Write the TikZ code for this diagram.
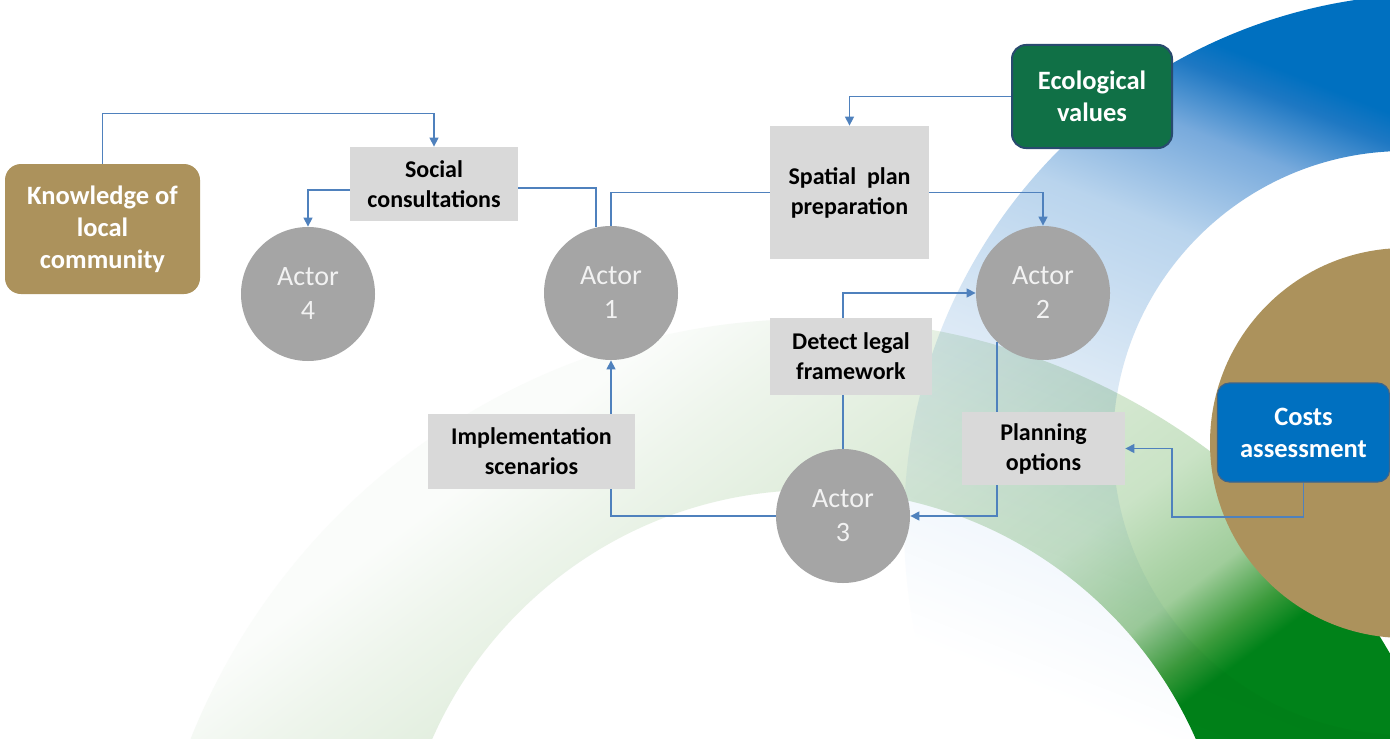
\documentclass[tikz,border=0pt]{standalone}
\usepackage{fontspec}
\setmainfont{Carlito}
\usetikzlibrary{arrows.meta,calc}

\definecolor{linkblue}{RGB}{79,129,189}
\definecolor{boxgray}{RGB}{217,217,217}
\definecolor{actorgray}{RGB}{165,165,165}
\definecolor{actortext}{RGB}{242,242,242}
\definecolor{goldc}{RGB}{172,146,92}
\definecolor{ecogreen}{RGB}{16,112,70}
\definecolor{ecoborder}{RGB}{40,74,110}
\definecolor{costblue}{RGB}{0,112,192}
\definecolor{costborder}{RGB}{60,100,140}

\definecolor{bl1}{RGB}{240,246,252}
\definecolor{bl2}{RGB}{218,232,245}
\definecolor{bl3}{RGB}{185,212,237}
\definecolor{bl4}{RGB}{120,170,220}
\definecolor{bl5}{RGB}{30,120,195}
\definecolor{bldark}{RGB}{0,112,192}

\definecolor{gr0}{RGB}{250,252,250}
\definecolor{gr1}{RGB}{238,245,236}
\definecolor{gr2}{RGB}{220,235,216}
\definecolor{gr3}{RGB}{202,227,198}
\definecolor{gr4}{RGB}{160,205,155}
\definecolor{gr5}{RGB}{60,155,60}
\definecolor{grdark}{RGB}{0,130,25}

\pgfdeclareverticalshading{blueband}{100bp}{color(0bp)=(white); color(30bp)=(white); color(35bp)=(bl1); color(40bp)=(bl2); color(45bp)=(bl3); color(48.1bp)=(bl4); color(50bp)=(bl5); color(50.9bp)=(bldark); color(100bp)=(bldark)}
\pgfdeclareverticalshading{greenband}{100bp}{color(0bp)=(white); color(38.5bp)=(gr0); color(40.3bp)=(gr1); color(43.5bp)=(gr2); color(46.8bp)=(gr3); color(48.9bp)=(gr4); color(50bp)=(gr5); color(50.7bp)=(grdark); color(100bp)=(grdark)}

\begin{document}
\begin{tikzpicture}[x=0.5pt,y=-0.5pt,
  conn/.style={draw=linkblue, line width=0.7pt},
  arr/.style={conn, -{Triangle[length=4.5pt,width=4.5pt]}},
  graybox/.style={fill=boxgray, align=center, inner sep=0pt, font=\fontsize{12}{15}\selectfont\bfseries, text=black},
  colbox/.style={rounded corners=7pt, align=center, inner sep=0pt, font=\fontsize{13.25}{16}\selectfont\bfseries, text=white},
  actor/.style={circle, fill=actorgray, minimum size=67pt, inner sep=0pt, align=center, font=\fontsize{14}{17}\selectfont, text=actortext}]

\useasboundingbox (0,0) rectangle (1390,738);
\fill[white] (0,0) rectangle (1390,738);

% decorative background
\begin{scope}
  \clip (0,0) rectangle (1390,738);
  \begin{scope}
    \clip (811,987) ++(668,0) arc[start angle=0, end angle=360, radius=668] -- cycle
          (814,907) ++(417,0) arc[start angle=0, end angle=-360, radius=417] -- cycle;
    \shade[shading=greenband, shading angle=-143.13] (-40,-610) rectangle (2460,1890);
  \end{scope}
  \begin{scope}[blend mode=multiply]
    \clip (1435,525) ++(531,0) arc[start angle=0, end angle=360, radius=531] -- cycle
          (1405,443) ++(292,0) arc[start angle=0, end angle=-360, radius=292] -- cycle;
    \shade[shading=blueband, shading angle=-21.7] (450,-712) rectangle (2050,888);
  \end{scope}
  \fill[goldc] (1405,443) circle[radius=195];
\end{scope}

% nodes
\node[colbox, fill=goldc, rounded corners=8pt, minimum width=97.5pt, minimum height=65pt] (know) at (102.5,229) {Knowledge of\\local\\community};
\node[graybox, minimum width=84pt, minimum height=37pt] (social) at (434,184) {Social\\consultations};
\node[graybox, minimum width=79.5pt, minimum height=66.5pt] (spatial) at (849.5,192.5) {Spatial\ \ plan\\preparation};
\node[colbox, fill=ecogreen, draw=ecoborder, line width=1pt, minimum width=80pt, minimum height=51.5pt] (eco) at (1092,96.5) {Ecological\\values};
\node[graybox, minimum width=81pt, minimum height=38.5pt] (detect) at (851,356.5) {Detect legal\\framework};
\node[graybox, minimum width=103.5pt, minimum height=37.5pt] (impl) at (531.5,451.5) {Implementation\\scenarios};
\node[graybox, minimum width=81.5pt, minimum height=36.5pt] (plan) at (1043.5,448.5) {Planning\\options};
\node[colbox, fill=costblue, draw=costborder, line width=0.6pt, rounded corners=6pt, minimum width=86pt, minimum height=49.5pt] (costs) at (1303.5,432.5) {Costs\\assessment};

\node[actor] (a4) at (308,294) {Actor\\4};
\node[actor] (a1) at (611,293) {Actor\\1};
\node[actor] (a2) at (1043,293) {Actor\\2};
\node[actor] (a3) at (843,516) {Actor\\3};

% connectors
\draw[arr] (know.north) -- ++(0,-50) -| (social.north);
\draw[arr] ([yshift=-3pt]social.west) -| (a4.north);
\draw[conn] ([yshift=-2pt]social.east) -| (a1.103);
\draw[conn] (a1.north) |- (spatial.west);
\draw[arr] (spatial.east) -| (a2.north);
\draw[arr] (eco.west) -| (spatial.north);
\draw[arr] ([xshift=-4pt]detect.north) |- (a2.west);
\draw[conn] (a3.north) -- (a3.north |- detect.south);
\draw[conn] (a2.227) -- (a2.227 |- plan.north);
\draw[arr] (plan.south -| a2.227) |- (a3.east);
\coordinate (cp) at (1172,517);
\draw[arr] (costs.south) |- (cp) |- (plan.east);
\draw[conn] (a3.west) -| (a1.south |- impl.south);
\draw[arr] (a1.south |- impl.north) -- (a1.south);
\end{tikzpicture}
\end{document}
